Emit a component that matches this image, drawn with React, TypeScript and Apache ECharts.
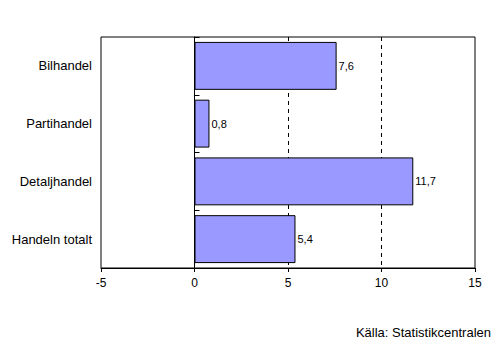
import React, { useEffect, useRef } from "react";
import * as echarts from "echarts";

const categories = ["Bilhandel", "Partihandel", "Detaljhandel", "Handeln totalt"];
const values = [7.6, 0.8, 11.7, 5.4];
const xMin = -5;
const xMax = 15;
const xStep = 5;
const sourceText = "Källa: Statistikcentralen";

const FONT = "Liberation Sans, Arial, sans-serif";

export default function App() {
  const ref = useRef<HTMLDivElement>(null);
  useEffect(() => {
    if (!ref.current) return;
    const chart = echarts.init(ref.current, null, { renderer: "svg" });
    chart.setOption({
      animation: false,
      backgroundColor: "#ffffff",
      grid: {
        left: 101,
        right: 26,
        top: 37,
        bottom: 85,
        show: true,
        borderColor: "#000",
        borderWidth: 1,
        backgroundColor: "transparent",
      },
      xAxis: {
        type: "value",
        min: xMin,
        max: xMax,
        interval: xStep,
        axisLine: { show: true, onZero: false, lineStyle: { color: "#000", width: 1 } },
        axisTick: { show: true, length: 4, lineStyle: { color: "#000" } },
        axisLabel: {
          color: "#000",
          fontFamily: FONT,
          fontSize: 12,
          margin: 9,
        },
        splitLine: {
          show: true,
          showMinLine: false,
          showMaxLine: false,
          lineStyle: { color: "#000", type: [4, 4], width: 1 },
        },
      },
      yAxis: [
        {
          type: "category",
          data: categories,
          inverse: true,
          position: "left",
          axisLine: { show: false },
          axisTick: { show: false },
          axisLabel: {
            color: "#000",
            fontFamily: FONT,
            fontSize: 13,
            margin: 9,
          },
          splitLine: { show: false },
        },
        {
          type: "category",
          data: categories,
          inverse: true,
          position: "left",
          offset: 0,
          axisLine: { show: true, onZero: false, lineStyle: { color: "#000", width: 1 } },
          axisTick: { show: true, inside: true, length: 5, lineStyle: { color: "#000" } },
          axisLabel: { show: false },
          splitLine: { show: false },
        },
      ],
      series: [
        {
          type: "bar",
          data: values,
          yAxisIndex: 0,
          barCategoryGap: "17%",
          itemStyle: { color: "#9999ff", borderColor: "#000", borderWidth: 1 },
          label: {
            show: true,
            position: "right",
            distance: 2,
            color: "#000",
            fontFamily: FONT,
            fontSize: 11,
            formatter: (p: any) => String(p.value).replace(".", ","),
          },
        },
      ],
      graphic: [
        {
          type: "text",
          right: 10,
          top: 326,
          style: {
            text: sourceText,
            fill: "#000",
            font: `13px ${FONT}`,
          },
        },
      ],
    });
    // place the zero axis line at x = 0 using the library's own scale
    const px0 = chart.convertToPixel({ xAxisIndex: 0 }, 0) as number;
    const pxMin = chart.convertToPixel({ xAxisIndex: 0 }, xMin) as number;
    chart.setOption({
      yAxis: [{}, { offset: -(px0 - pxMin) }],
    });
    return () => chart.dispose();
  }, []);
  return <div ref={ref} style={{ width: 501, height: 353, position: "absolute", left: 0, top: 0 }} />;
}
